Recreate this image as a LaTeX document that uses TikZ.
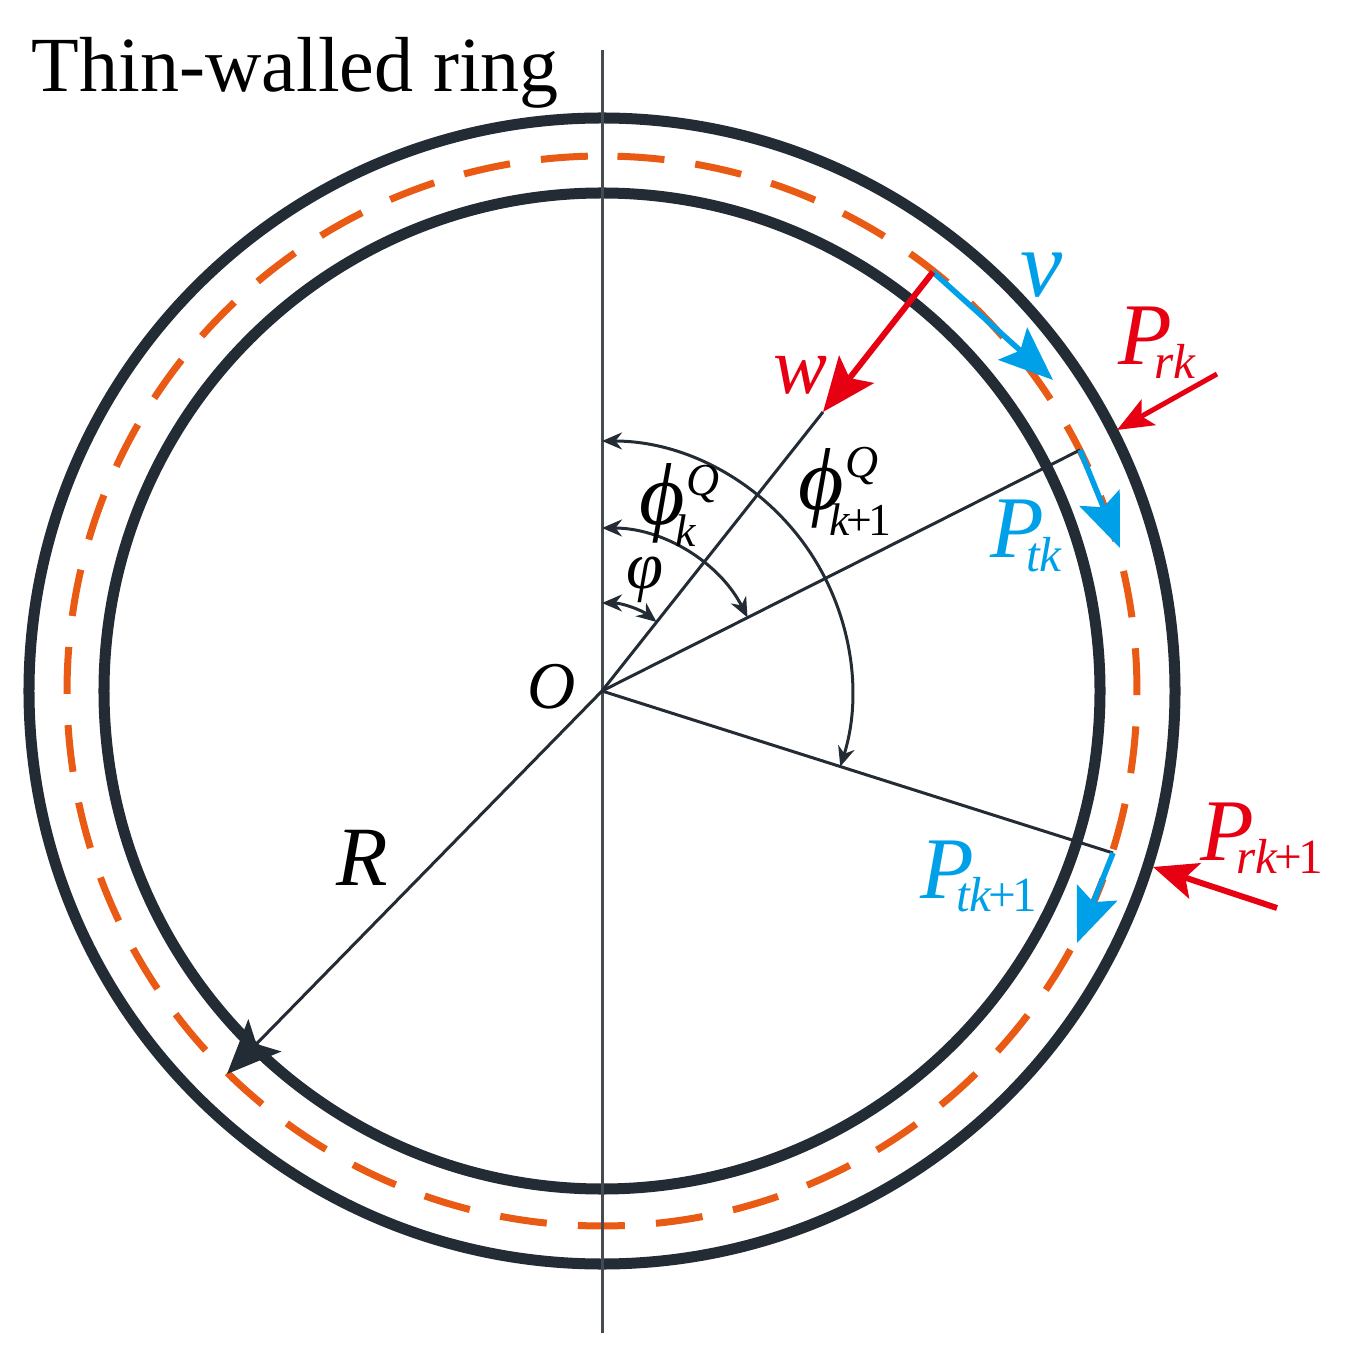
\documentclass[tikz,border=0pt]{standalone}
\usepackage{fontspec}
\setmainfont{Liberation Serif}
\usetikzlibrary{arrows.meta}
\definecolor{ringdark}{HTML}{232B35}
\definecolor{ringorange}{HTML}{E95A14}
\definecolor{loadred}{HTML}{E60012}
\definecolor{loadblue}{HTML}{00A0E9}
\newcommand{\fsize}[1]{\fontsize{#1}{#1}\selectfont}
\newcommand{\plusone}{\kern-1pt+\kern-1.2pt1}
\newcommand{\Pforce}[1]{\fsize{25}\textit{P}\kern-1.75mm\raisebox{-1.3mm}{\fsize{14}#1}}
\newcommand{\phiload}[3]{\fsize{25}\textit{ϕ}\rlap{\kern.2mm\raisebox{#1}{\fsize{13}\textit{Q}}}\raisebox{#2}{\fsize{13}#3}}
\tikzset{
	wall/.style={draw=ringdark,line width=.11cm},
	midline/.style={draw=ringorange,line width=.07cm,dash pattern=on .47cm off .3117cm},
	thin line/.style={draw=ringdark,line width=.03cm},
	angle arc/.style={thin line,{Stealth[length=.2cm,width=.17cm]}-{Stealth[length=.2cm,width=.17cm]}},
	radius arrow/.style={thin line,-{Stealth[length=.54cm,width=.46cm,inset=.12cm]}},
	big red/.style={draw=loadred,line width=.06cm,-{Stealth[length=.54cm,width=.44cm,inset=.11cm]}},
	mid red/.style={draw=loadred,line width=.06cm,-{Stealth[length=.44cm,width=.37cm,inset=.1cm]}},
	small red/.style={draw=loadred,line width=.05cm,-{Stealth[length=.36cm,width=.29cm,inset=.08cm]}},
	blue arrow/.style={draw=loadblue,line width=.055cm,-{Stealth[length=.54cm,width=.43cm,inset=.1cm]}},
	lab/.style={inner sep=0,outer sep=0},
}
\begin{document}
\begin{tikzpicture}[x=.01cm,y=.01cm]
	\useasboundingbox (-602,-661) rectangle (747,691);
	\coordinate (O) at (0,0);
	\coordinate (axistop) at (0,641);
	\coordinate (axisbot) at (0,-642);
	\coordinate (wroot) at (331,419);
	\coordinate (wtip) at (221,279);
	\coordinate (vtip) at (451,311);
	\coordinate (troot) at (478,241);
	\coordinate (ttip) at (518,143);
	\coordinate (tnroot) at (511,-162);
	\coordinate (tntip) at (475,-252);
	\coordinate (rstart) at (615,317);
	\coordinate (rtip) at (515,261);
	\coordinate (rnstart) at (675,-217);
	\coordinate (rntip) at (551,-176);
	\coordinate (Rtip) at (-375,-383);
	\coordinate (arcA) at (0,88);
	\coordinate (arcB) at (0,163);
	\coordinate (arcC) at (0,250);
	% ring
	\draw[wall] (O) circle[radius=573];
	\draw[wall] (O) circle[radius=498];
	\draw[midline] (88.34:535) arc[start angle=88.34,delta angle=-360,radius=535];
	% radial lines
	\draw[thin line,draw=ringdark!85!white] (axistop) -- (axisbot);
	\draw[thin line] (O) -- (wtip);
	\draw[thin line] (O) -- (troot);
	\draw[thin line] (O) -- (tnroot);
	\draw[radius arrow] (O) -- (Rtip);
	% angles
	\draw[angle arc] (arcA) arc[start angle=90,end angle=51.7,radius=88];
	\draw[angle arc] (arcB) arc[start angle=90,end angle=26.8,radius=163];
	\draw[angle arc] (arcC) arc[start angle=90,end angle=-17.6,radius=250];
	% loads
	\draw[blue arrow] (wroot) -- (vtip);
	\draw[big red] (wroot) -- (wtip);
	\draw[blue arrow] (troot) -- (ttip);
	\draw[blue arrow] (tnroot) -- (tntip);
	\draw[small red] (rstart) -- (rtip);
	\draw[mid red] (rnstart) -- (rntip);
	% labels
	\node[lab,anchor=base west] (title) at (-570,599) {\fsize{22.2}Thin-walled ring};
	\node[lab] (lO) at (-50,4) {\fsize{19}\textit{O}};
	\node[lab] (lR) at (-240,-167) {\fsize{24}\textit{R}};
	\node[lab,text=loadred] (lw) at (198,316) {\fsize{23}\textit{w}};
	\node[lab,text=loadblue] (lv) at (440,416) {\fsize{27}\textit{v}};
	\node[lab,anchor=base west,text=loadred] (lprk) at (516,326) {\Pforce{\textit{rk}}};
	\node[lab,anchor=base west,text=loadblue] (lptk) at (388,133) {\Pforce{\textit{tk}}};
	\node[lab,anchor=base west,text=loadblue] (lptn) at (318,-207) {\Pforce{\textit{tk}\plusone}};
	\node[lab,anchor=base west,text=loadred] (lprn) at (598,-169) {\Pforce{\textit{rk}\plusone}};
	\node[lab,anchor=base west] (lphik) at (37,166) {\phiload{2.9mm}{-2.1mm}{\kern-.9mm\textit{k}}};
	\node[lab,anchor=base west] (lphin) at (196,181) {\phiload{3.2mm}{-2.5mm}{\kern-1.4mm\textit{k}\plusone}};
	\node[lab] (lphi) at (43,111) {\fsize{19}\textit{φ}};
\end{tikzpicture}
\end{document}
